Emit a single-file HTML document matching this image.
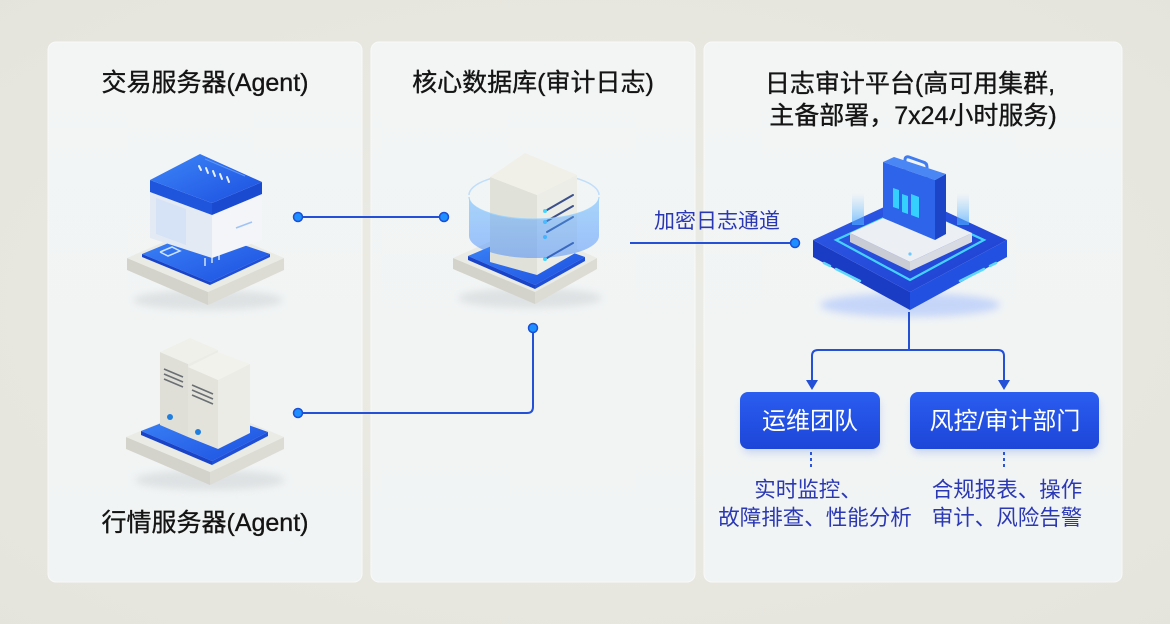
<!DOCTYPE html>
<html>
<head>
<meta charset="utf-8">
<style>
  html,body{margin:0;padding:0;}
  body{width:1170px;height:624px;overflow:hidden;background:#e8e8e1;font-family:"Liberation Sans","Noto Sans CJK SC",sans-serif;}
  svg{display:block;}
  .t{font-family:"Liberation Sans","Noto Sans CJK SC",sans-serif;}
</style>
</head>
<body>
<svg width="1170" height="624" viewBox="0 0 1170 624" xmlns="http://www.w3.org/2000/svg">
  <defs>
    <radialGradient id="bg" cx="50%" cy="50%" r="75%">
      <stop offset="0" stop-color="#ecece6"/>
      <stop offset="1" stop-color="#e4e4dc"/>
    </radialGradient>
    <linearGradient id="panel" x1="0" y1="0" x2="0" y2="1">
      <stop offset="0" stop-color="#f3f5f5"/>
      <stop offset="1" stop-color="#f1f4f4"/>
    </linearGradient>
    <linearGradient id="btn" x1="0" y1="0" x2="0" y2="1">
      <stop offset="0" stop-color="#2a5df0"/>
      <stop offset="1" stop-color="#1d46d8"/>
    </linearGradient>
    <linearGradient id="blueTop" x1="0" y1="0" x2="1" y2="1">
      <stop offset="0" stop-color="#3d86f8"/>
      <stop offset="1" stop-color="#1c4fe0"/>
    </linearGradient>
    <linearGradient id="baseTop" x1="0" y1="0" x2="1" y2="1">
      <stop offset="0" stop-color="#2f5ae8"/>
      <stop offset="1" stop-color="#1e3fcf"/>
    </linearGradient>
    <linearGradient id="ring" x1="0" y1="0" x2="0" y2="1">
      <stop offset="0" stop-color="#5fb4ff" stop-opacity="0.5"/>
      <stop offset="1" stop-color="#2f7dff" stop-opacity="0.45"/>
    </linearGradient>
    <linearGradient id="glow" x1="0" y1="0" x2="0" y2="1">
      <stop offset="0" stop-color="#7cc7ff" stop-opacity="0"/>
      <stop offset="1" stop-color="#4aa8ff" stop-opacity="0.7"/>
    </linearGradient>
    <filter id="sh" x="-20%" y="-20%" width="140%" height="160%">
      <feGaussianBlur stdDeviation="4"/>
    </filter>
  </defs>

  <rect x="0" y="0" width="1170" height="624" fill="url(#bg)"/>

  <rect x="48" y="42" width="314" height="540" rx="8" fill="url(#panel)" stroke="#f8f9f9" stroke-width="1"/>
  <rect x="371" y="42" width="324" height="540" rx="8" fill="url(#panel)" stroke="#f8f9f9" stroke-width="1"/>
  <rect x="704" y="42" width="418" height="540" rx="8" fill="url(#panel)" stroke="#f8f9f9" stroke-width="1"/>

  <g class="t" fill="#141414" stroke="#141414" stroke-width="0.35" font-size="25" text-anchor="middle">
    <text x="205" y="91">交易服务器(Agent)</text>
    <text x="533" y="91">核心数据库(审计日志)</text>
    <text x="910" y="92">日志审计平台(高可用集群,</text>
    <text x="913" y="124">主备部署，7x24小时服务)</text>
    <text x="205" y="531">行情服务器(Agent)</text>
  </g>

  <!-- Trading server icon -->
  <g>
    <ellipse cx="208" cy="300" rx="75" ry="10" fill="#c9cfd2" opacity="0.5" filter="url(#sh)"/>
    <polygon points="127,258 208,292 208,305 127,270" fill="#d3d3cb"/>
    <polygon points="208,292 284,258 284,270 208,305" fill="#dcdcd5"/>
    <polygon points="127,258 205,224 284,258 208,292" fill="#ebebe5"/>
    <polygon points="142,254 200,230 270,254 210,282" fill="url(#blueTop)"/>
    <polygon points="142,254 210,282 210,285 142,257" fill="#1a44c8"/>
    <polygon points="210,282 270,254 270,257 210,285" fill="#1f4fd6"/>
    <polyline points="160,252 172,247 180,251 168,256 160,252" fill="none" stroke="#cfe3ff" stroke-width="1.5"/>
    <line x1="205" y1="258" x2="205" y2="266" stroke="#cfe3ff" stroke-width="1.5"/>
    <line x1="212" y1="255" x2="212" y2="263" stroke="#cfe3ff" stroke-width="1.5"/>
    <line x1="219" y1="252" x2="219" y2="260" stroke="#cfe3ff" stroke-width="1.5"/>
    <polygon points="150,192 212,215 212,258 150,238" fill="#e4eaf4"/>
    <polygon points="156,198 186,209 186,245 156,234" fill="#d6e2f5"/>
    <polygon points="212,215 262,194 262,240 212,258" fill="#f3f5f8"/>
    <line x1="236" y1="228" x2="252" y2="222" stroke="#9fc3f6" stroke-width="1.5"/>
    <polygon points="150,180 212,203 212,215 150,192" fill="#1f55dc"/>
    <polygon points="212,203 262,182 262,194 212,215" fill="#1a4ad0"/>
    <polygon points="150,180 200,154 262,182 212,203" fill="url(#blueTop)"/>
    <g stroke="#e6f0ff" stroke-width="2" stroke-linecap="round">
      <line x1="199" y1="166" x2="201" y2="170"/>
      <line x1="206" y1="168" x2="208" y2="173"/>
      <line x1="213" y1="171" x2="215" y2="176"/>
      <line x1="220" y1="174" x2="222" y2="179"/>
      <line x1="227" y1="177" x2="229" y2="182"/>
    </g>
    <line x1="205" y1="159" x2="245" y2="176" stroke="#5c95f5" stroke-width="1"/>
  </g>

  <!-- Market server icon -->
  <g>
    <ellipse cx="210" cy="480" rx="75" ry="10" fill="#c9cfd2" opacity="0.5" filter="url(#sh)"/>
    <polygon points="126,437 210,472 210,485 126,449" fill="#d3d3cb"/>
    <polygon points="210,472 284,437 284,449 210,485" fill="#dcdcd5"/>
    <polygon points="126,437 205,404 284,437 210,472" fill="#ebebe5"/>
    <polygon points="141,431 200,408 268,432 212,461" fill="url(#blueTop)"/>
    <polygon points="141,431 212,461 212,465 141,435" fill="#1a44c8"/>
    <polygon points="212,461 268,432 268,436 212,465" fill="#1f4fd6"/>
    <polygon points="160,352 188,364 188,437 160,425" fill="#dfdfd8"/>
    <polygon points="188,364 218,350 218,423 188,437" fill="#ececE6"/>
    <polygon points="160,352 190,338 218,350 188,364" fill="#f0f0ea"/>
    <g stroke="#6a6f74" stroke-width="1.6">
      <line x1="164" y1="369" x2="183" y2="377"/>
      <line x1="164" y1="374" x2="183" y2="382"/>
      <line x1="164" y1="379" x2="183" y2="387"/>
    </g>
    <circle cx="170" cy="417" r="3" fill="#1e7fe0"/>
    <polygon points="188,367 218,380 218,449 188,437" fill="#e3e3dc"/>
    <polygon points="218,380 250,364 250,433 218,449" fill="#ececE6"/>
    <polygon points="188,367 218,352 250,364 218,380" fill="#f2f2ec"/>
    <g stroke="#6a6f74" stroke-width="1.6">
      <line x1="192" y1="385" x2="213" y2="394"/>
      <line x1="192" y1="390" x2="213" y2="399"/>
      <line x1="192" y1="395" x2="213" y2="404"/>
    </g>
    <circle cx="198" cy="432" r="3" fill="#1e7fe0"/>
  </g>

  <!-- DB icon -->
  <g>
    <ellipse cx="530" cy="298" rx="72" ry="10" fill="#c9cfd2" opacity="0.5" filter="url(#sh)"/>
    <polygon points="453,258 535,292 535,304 453,269" fill="#d3d3cb"/>
    <polygon points="535,292 597,258 597,269 535,304" fill="#dcdcd5"/>
    <polygon points="453,258 525,226 597,258 535,292" fill="#ebebe5"/>
    <polygon points="468,256 520,234 585,257 535,285" fill="url(#blueTop)"/>
    <polygon points="468,256 535,285 535,289 468,260" fill="#1a44c8"/>
    <polygon points="535,285 585,257 585,261 535,289" fill="#1f4fd6"/>
    <!-- ring back rim only -->
    <path d="M469,195 A65,22 0 0,1 599,195" fill="none" stroke="#8cc8ff" stroke-width="1.5" opacity="0.5"/>
    <polygon points="490,177 537,195 537,275 490,262" fill="#e0e1d9"/>
    <polygon points="537,195 577,175 577,252 537,275" fill="#ecede6"/>
    <polygon points="490,177 525,153 577,175 537,195" fill="#f0f0e8"/>
    <g stroke="#3a4f8c" stroke-width="2" stroke-linecap="round">
      <line x1="547" y1="210" x2="573" y2="195"/>
      <line x1="547" y1="221" x2="573" y2="206"/>
      <line x1="547" y1="232" x2="573" y2="217"/>
      <line x1="547" y1="258" x2="573" y2="243"/>
    </g>
    <circle cx="545" cy="211" r="2" fill="#46d4ff"/>
    <circle cx="545" cy="222" r="2" fill="#46d4ff"/>
    <circle cx="545" cy="237" r="2" fill="#46d4ff"/>
    <circle cx="545" cy="259" r="2" fill="#46d4ff"/>
    <path d="M469,197 A65,22 0 0,0 599,197 L599,236 A65,22 0 0,1 469,236 Z" fill="url(#ring)"/>
    <path d="M469,197 A65,22 0 0,0 599,197" fill="none" stroke="#9bd2ff" stroke-width="1.2" opacity="0.8"/>
  </g>

  <!-- Platform icon -->
  <g>
    <ellipse cx="910" cy="305" rx="90" ry="12" fill="#8fb0ff" opacity="0.45" filter="url(#sh)"/>
    <polygon points="813,240 910,292 910,310 813,257" fill="#1a3bc4"/>
    <polygon points="910,292 1007,240 1007,257 910,310" fill="#2250e0"/>
    <polygon points="813,240 910,195 1007,240 910,292" fill="url(#baseTop)"/>
    <polygon points="836,240 910,206 984,240 910,280" fill="none" stroke="#45d2ff" stroke-width="2.2"/>
    <g stroke="#5fd8ff" stroke-width="2.5" stroke-linecap="round">
      <line x1="824" y1="263" x2="830" y2="266"/>
      <line x1="836" y1="269" x2="860" y2="281"/>
      <line x1="960" y1="281" x2="984" y2="269"/>
      <line x1="990" y1="266" x2="996" y2="263"/>
    </g>
    <rect x="852" y="193" width="12" height="32" fill="url(#glow)"/>
    <rect x="957" y="193" width="12" height="32" fill="url(#glow)"/>
    <polygon points="850,233 910,262 910,271 850,242" fill="#c9ccd4"/>
    <polygon points="910,262 972,233 972,242 910,271" fill="#d8dbe2"/>
    <polygon points="850,233 910,206 972,233 910,262" fill="#eceff4"/>
    <circle cx="910" cy="254" r="1.6" fill="#6fc8ff"/>
    <path d="M905,172 L905,160 Q905,156 909,157 L923,162 Q927,163 927,167 L927,178" fill="none" stroke="#3f7cf0" stroke-width="3"/>
    <polygon points="935,180 946,174 946,234 935,240" fill="#1b44c6"/>
    <polygon points="883,162 894,157 946,174 935,180" fill="#4b86f5"/>
    <polygon points="883,162 935,180 935,240 883,218" fill="#2d64ea"/>
    <polygon points="893,188 899,190 899,209 893,207" fill="#36d0ff"/>
    <polygon points="902,194 908,196 908,214 902,212" fill="#36d0ff"/>
    <polygon points="911,194 919,197 919,218 911,215" fill="#36d0ff"/>
  </g>

  <!-- Connectors -->
  <g fill="none" stroke="#2350d6" stroke-width="2">
    <line x1="298" y1="217" x2="444" y2="217"/>
    <path d="M298,413 H527 Q533,413 533,407 V328"/>
    <line x1="630" y1="243" x2="795" y2="243"/>
    <path d="M909,312 V350"/>
    <path d="M812,384 V356 Q812,350 818,350 H998 Q1004,350 1004,356 V384"/>
  </g>
  <polygon points="806,380 818,380 812,390" fill="#2350d6"/>
  <polygon points="998,380 1010,380 1004,390" fill="#2350d6"/>
  <g fill="#1e8fff" stroke="#1a4fd6" stroke-width="1.5">
    <circle cx="298" cy="217" r="4.5"/>
    <circle cx="444" cy="217" r="4.5"/>
    <circle cx="298" cy="413" r="4.5"/>
    <circle cx="533" cy="328" r="4.5"/>
    <circle cx="795" cy="243" r="4.5"/>
  </g>

  <text class="t" x="717" y="228" font-size="21" fill="#2b38b4" text-anchor="middle">加密日志通道</text>

  <rect x="742" y="398" width="138" height="55" rx="8" fill="#7e9ef0" opacity="0.35" filter="url(#sh)"/>
  <rect x="912" y="398" width="187" height="55" rx="8" fill="#7e9ef0" opacity="0.35" filter="url(#sh)"/>
  <rect x="740" y="392" width="140" height="57" rx="8" fill="url(#btn)"/>
  <rect x="910" y="392" width="189" height="57" rx="8" fill="url(#btn)"/>
  <g class="t" fill="#ffffff" font-size="24" text-anchor="middle">
    <text x="810" y="429">运维团队</text>
    <text x="1005" y="429">风控/审计部门</text>
  </g>

  <g stroke="#2a55d8" stroke-width="2" stroke-dasharray="3,3">
    <line x1="811" y1="452" x2="811" y2="467"/>
    <line x1="1004" y1="452" x2="1004" y2="467"/>
  </g>

  <g class="t" fill="#2b38b4" font-size="21.5" text-anchor="middle">
    <text x="808" y="497">实时监控、</text>
    <text x="815" y="525">故障排查、性能分析</text>
    <text x="1007" y="497">合规报表、操作</text>
    <text x="1007" y="525">审计、风险告警</text>
  </g>
</svg>
</body>
</html>
